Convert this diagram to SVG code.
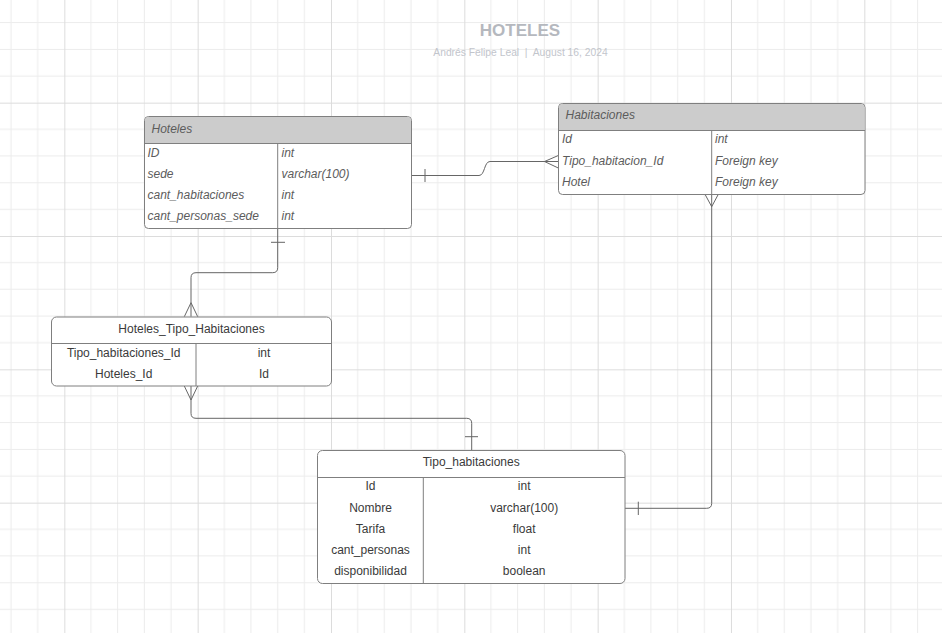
<svg xmlns="http://www.w3.org/2000/svg" width="942" height="633" viewBox="0 0 942 633">
<defs>
<pattern id="grid" patternUnits="userSpaceOnUse" x="64.33" y="102.67" width="133.33" height="133.33">
<path d="M26.67 0V133.33M53.33 0V133.33M80 0V133.33M106.67 0V133.33M0 26.67H133.33M0 53.33H133.33M0 80H133.33M0 106.67H133.33" stroke="#ececec" stroke-width="1" fill="none"/>
<path d="M0.5 0V133.33M0 0.5H133.33" stroke="#dcdcdc" stroke-width="1" fill="none"/>
</pattern>
<style>
.box{fill:#fff;stroke:#7f7f7f;stroke-width:1}
.hdr{fill:#cccccc;stroke:none}
.sep{stroke:#7f7f7f;stroke-width:1;fill:none}
.it{font-family:"Liberation Sans",Arial,sans-serif;font-size:12px;font-style:italic;fill:#5c5c5c}
.tx{font-family:"Liberation Sans",Arial,sans-serif;font-size:12px;fill:#3a3a3a;text-anchor:middle}
.conn path{stroke:#666;stroke-width:1;fill:none}
</style>
</defs>
<rect width="942" height="633" fill="#fff"/>
<rect width="942" height="633" fill="url(#grid)"/>

<g id="title">
<text x="520" y="35.7" text-anchor="middle" font-family="Liberation Sans,Arial,sans-serif" font-size="17" font-weight="bold" fill="#b5b8be">HOTELES</text>
<text x="520.5" y="55.7" text-anchor="middle" font-family="Liberation Sans,Arial,sans-serif" font-size="10.3" fill="#c2c5cc" xml:space="preserve">Andrés Felipe Leal  |  August 16, 2024</text>
</g>

<g class="conn" id="connectors">
<path d="M411.7 175.5H479C485 175.5 484 161.5 490 161.5H558.3"/>
<path d="M544.5 161.5L558.3 155.5M544.5 161.5L558.3 168"/>
<path d="M425 169V182"/>
<path d="M277.7 228.3V267.7Q277.7 272.7 272.7 272.7H196Q191 272.7 191 277.7V316.7"/>
<path d="M271 242.3H285"/>
<path d="M184.3 316.7L191 302.7L197.7 316.7"/>
<path d="M191 386V413.3Q191 418.3 196 418.3H466.7Q471.7 418.3 471.7 423.3V450"/>
<path d="M465 436.7H478"/>
<path d="M184.3 386L191 400L197.7 386"/>
<path d="M711.7 194.3V503.3Q711.7 508.3 706.7 508.3H625"/>
<path d="M638.3 501.7V515"/>
<path d="M705 194.3L711.7 206.7L718.3 194.3"/>
</g>

<g id="hoteles">
<rect class="box" x="144.5" y="116.5" width="267" height="112" rx="4"/>
<path class="hdr" d="M148.5 117H407.5Q411 117 411 120.5V143.5H145V120.5Q145 117 148.5 117Z"/>
<path class="sep" d="M144.5 143.5H411.5M277.7 143.5V228.5"/>
<text class="it" x="151.5" y="132.7">Hoteles</text>
<text class="it" x="147.5" y="157">ID</text>
<text class="it" x="147.5" y="178">sede</text>
<text class="it" x="147.5" y="199">cant_habitaciones</text>
<text class="it" x="147.5" y="220">cant_personas_sede</text>
<text class="it" x="281.5" y="157">int</text>
<text class="it" x="281.5" y="178">varchar(100)</text>
<text class="it" x="281.5" y="199">int</text>
<text class="it" x="281.5" y="220">int</text>
</g>

<g id="habitaciones">
<rect class="box" x="558.5" y="103.5" width="306.5" height="91" rx="4"/>
<path class="hdr" d="M562.5 104H861Q864.5 104 864.5 107.5V130H559V107.5Q559 104 562.5 104Z"/>
<path class="sep" d="M558.5 130.5H865M711.7 130.5V194.5"/>
<text class="it" x="565.5" y="119.3">Habitaciones</text>
<text class="it" x="562" y="143.3">Id</text>
<text class="it" x="562" y="164.5">Tipo_habitacion_Id</text>
<text class="it" x="562" y="186">Hotel</text>
<text class="it" x="715" y="143.3">int</text>
<text class="it" x="715" y="164.5">Foreign key</text>
<text class="it" x="715" y="186">Foreign key</text>
</g>

<g id="hoteles_tipo_habitaciones">
<rect class="box" x="51.5" y="317" width="280" height="69" rx="5"/>
<path class="sep" d="M51.5 343.5H331.5M196 343.5V386"/>
<text class="tx" x="191.5" y="332.5">Hoteles_Tipo_Habitaciones</text>
<text class="tx" x="123.7" y="356.7">Tipo_habitaciones_Id</text>
<text class="tx" x="123.7" y="377.7">Hoteles_Id</text>
<text class="tx" x="264" y="356.7">int</text>
<text class="tx" x="264" y="377.7">Id</text>
</g>

<g id="tipo_habitaciones">
<rect class="box" x="317.5" y="450.5" width="307.5" height="133" rx="5"/>
<path class="sep" d="M317.5 477.5H625M423.3 477.5V583.5"/>
<text class="tx" x="471.2" y="466">Tipo_habitaciones</text>
<text class="tx" x="370.5" y="490">Id</text>
<text class="tx" x="370.5" y="511.5">Nombre</text>
<text class="tx" x="370.5" y="532.7">Tarifa</text>
<text class="tx" x="370.5" y="554">cant_personas</text>
<text class="tx" x="370.5" y="575.2">disponibilidad</text>
<text class="tx" x="524.2" y="490">int</text>
<text class="tx" x="524.2" y="511.5">varchar(100)</text>
<text class="tx" x="524.2" y="532.7">float</text>
<text class="tx" x="524.2" y="554">int</text>
<text class="tx" x="524.2" y="575.2">boolean</text>
</g>
</svg>
